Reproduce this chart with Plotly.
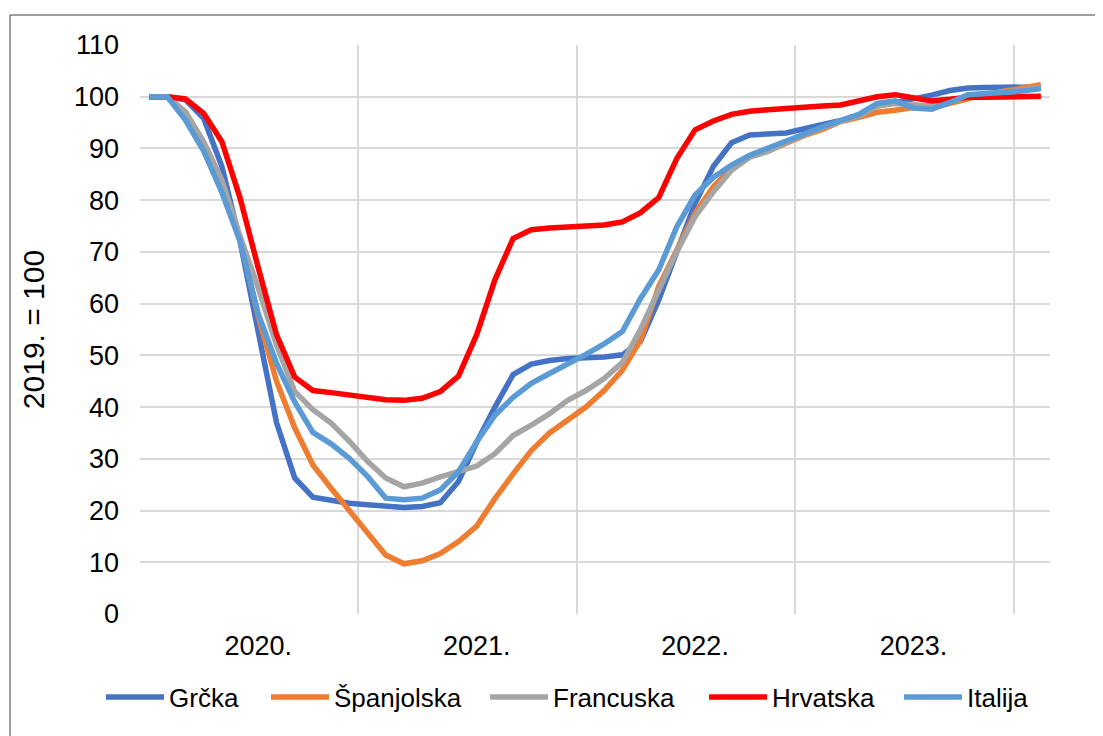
import plotly.graph_objects as go

# Monthly index, 2019 = 100, Jan 2020 .. Feb 2024 (50 months)
months = list(range(50))
year_labels = ["2020.", "2021.", "2022.", "2023."]
year_label_pos = [6.0, 18.0, 30.0, 42.0]
year_bounds = [-0.5, 11.5, 23.5, 35.5, 47.5]

grcka = [100, 100, 99.4, 95.8, 86.5, 72, 54.5, 37, 26.3, 22.6, 22, 21.4, 21.1, 20.8, 20.6, 20.8,
         21.5, 25.6, 33.2, 40, 46.3, 48.3, 49, 49.4, 49.5, 49.7, 50.1, 52.7, 60.7, 70.1, 79.4,
         86.5, 91.1, 92.6, 92.7, 93, 93.8, 94.6, 95.4, 96.5, 98.2, 98.9, 99.5, 100.3, 101.2,
         101.7, 101.8, 101.8, 101.8, 101.9]
spanjolska = [100, 100, 97, 91, 83, 72.5, 57.5, 45, 36, 28.8, 24.3, 20.1, 15.6, 11.4, 9.7, 10.3,
              11.7, 14, 17, 22.3, 27.1, 31.6, 35, 37.4, 40, 43.2, 47.1, 52.9, 63.3, 70.4, 77.5,
              82.6, 86.1, 88.5, 89.5, 91, 92.5, 93.7, 95.2, 96, 97, 97.4, 97.9, 97.8, 98.7, 99.8,
              100.5, 101.1, 101.7, 102.3]
francuska = [100, 100, 97.1, 91.3, 83.9, 73, 63, 52, 43, 39.5, 36.9, 33.4, 29.5, 26.3, 24.6, 25.3,
             26.5, 27.5, 28.6, 31, 34.5, 36.5, 38.7, 41.3, 43.2, 45.5, 48.6, 55, 62.7, 70.1, 76.8,
             81.6, 85.8, 88.3, 89.4, 91.2, 92.7, 94, 95.3, 96.3, 98.2, 98.7, 98.5, 98.2, 99,
             100.2, 100.6, 100.9, 101.3, 101.8]
hrvatska = [100, 100, 99.6, 96.8, 91.3, 80.4, 66.9, 54, 45.8, 43.2, 42.8, 42.4, 41.9, 41.4, 41.3,
            41.7, 43, 46, 54, 64.6, 72.6, 74.3, 74.6, 74.8, 74.9, 75.2, 75.8, 77.6, 80.5, 88.1,
            93.6, 95.3, 96.6, 97.2, 97.5, 97.8, 98, 98.2, 98.4, 99.1, 100, 100.4, 99.7, 99.2,
            99.5, 99.9, 99.9, 100, 100.1, 100.1]
italija = [100, 100, 95.5, 89.5, 81.5, 72, 58, 48.5, 41, 35.1, 32.9, 30.1, 26.6, 22.4, 22.1, 22.4,
           24, 27.5, 33.3, 38.4, 41.9, 44.6, 46.5, 48.3, 50.2, 52.2, 54.6, 61, 66.5, 74.9, 81,
           84.4, 86.8, 88.7, 90, 91.3, 92.8, 94.2, 95.4, 96.6, 98.7, 99.2, 97.8, 97.6, 98.9,
           100.4, 100.6, 100.8, 101.1, 101.6]

names = ["Grčka", "Španjolska", "Francuska", "Hrvatska", "Italija"]
values = [grcka, spanjolska, francuska, hrvatska, italija]
colors = ["#4472C4", "#ED7D31", "#A5A5A5", "#FF0000", "#5B9BD5"]

FONT = "Liberation Sans, Arial, sans-serif"
GRID = "#D9D9D9"
FS = 26

# figure sits at (8, 8) in the page because of the default body margin
W, H = 1095, 728
ML, MR, MT, MB = 132, 53, 37, 122
PW = W - ML - MR
PH = H - MT - MB

def px_x(page_x):
    return (page_x - 8 - ML) / PW

def px_y(page_y):
    return (H - MB - (page_y - 8)) / PH

legend_starts = [107, 272, 491, 710, 905]

fig = go.Figure()
layout_legends = {}
for k, (name, vals, col) in enumerate(zip(names, values, colors)):
    lname = "legend" if k == 0 else f"legend{k + 1}"
    fig.add_trace(go.Scatter(x=months, y=vals, name=name, mode="lines",
                             line=dict(color=col, width=5.5), hoverinfo="skip",
                             legend=lname))
    layout_legends[lname] = dict(
        x=px_x(legend_starts[k] - 6), xanchor="left",
        y=px_y(697), yanchor="middle",
        orientation="h", itemwidth=58, font=dict(size=FS, family=FONT),
        bgcolor="rgba(0,0,0,0)", borderwidth=0)

fig.update_layout(
    width=W, height=H,
    margin=dict(l=ML, r=MR, t=MT, b=MB),
    paper_bgcolor="white", plot_bgcolor="white",
    font=dict(family=FONT, size=FS, color="#000000"),
    showlegend=True,
    xaxis=dict(range=[-0.5, 49.5], tickmode="array", tickvals=year_label_pos,
               ticktext=year_labels, showgrid=False, zeroline=False, showline=False,
               ticks="", ticklabelstandoff=13, tickfont=dict(size=27),
               minor=dict(tickmode="array", tickvals=year_bounds, showgrid=True,
                          gridcolor=GRID, gridwidth=2, ticks="")),
    yaxis=dict(range=[0, 110], tickmode="array", tickvals=list(range(0, 111, 10)),
               showgrid=True, gridcolor=GRID, gridwidth=2, zeroline=False,
               showline=False, ticks="", ticklabelstandoff=20, tickfont=dict(size=27),
               title=dict(text="2019. = 100", standoff=20, font=dict(size=30))),
    shapes=[dict(type="rect", xref="paper", yref="paper",
                 x0=px_x(10), x1=px_x(1120), y0=px_y(760), y1=px_y(15),
                 line=dict(color="#404040", width=1), fillcolor="rgba(0,0,0,0)",
                 layer="below")],
    **layout_legends,
)

fig.write_html("out.html")
